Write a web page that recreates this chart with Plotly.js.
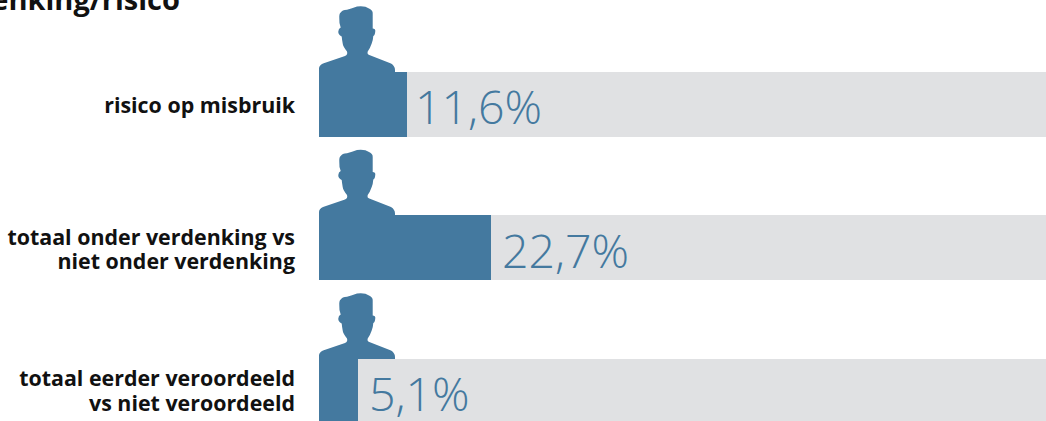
<!DOCTYPE html>
<html>
<head>
<meta charset="utf-8">
<script src="https://cdn.plot.ly/plotly-3.0.1.min.js"></script>
<style>html,body{margin:0;padding:0;background:#fff;overflow:hidden}#c{width:1046px;height:421px}</style>
</head>
<body>
<div id="c"></div>
<script>
const rowPositions = [0, 1, 2];
const labelLines = ["risico op misbruik", "totaal onder verdenking vs", "niet onder verdenking", "totaal eerder veroordeeld", "vs niet veroordeeld"];
const labelLinePositions = [0.005, 0.93, 1.097, 1.91, 2.085];
const values = [11.6, 22.7, 5.1];
const valueLabels = ["11,6%", "22,7%", "5,1%"];
const totals = [100, 100, 100];
const chartTitle = "verdenking/risico";

const blue = "#44799f";
const grey = "#e0e1e3";
const font = "'Open Sans', sans-serif";
const labelShifts = [6, 9, 9];

// Silhouette drawn in pixels relative to the row anchor (x=0, row centre); y up
const person = "M0,20 L0,36 Q0,39 4,41 L26,48.5 Q29,50 28,53 Q24,58 23.7,61 Q23,65 22.7,68 Q19,70 19.3,73 Q19.5,76 21.7,77 Q20,81 20.3,86 Q20,91 21.7,92 Q23,94.5 28,94.8 Q33,96 38,98 Q46,99 50,96 Q54,94 53.7,91 L53.7,76 Q56.5,76 56.3,73.5 Q56,69 54.3,68.5 Q54,64 52.7,61 Q51,56 48.7,53 Q48,50 50.3,49.5 L72,41 Q76,38.5 76,34.5 L76,20 Z";

const shapes = rowPositions.map(r => ({
  type: "path", layer: "below", xref: "x", yref: "y",
  xsizemode: "pixel", ysizemode: "pixel", xanchor: 0, yanchor: r,
  path: person, fillcolor: blue, line: {width: 0}
}));

const annotations = rowPositions.map((r, i) => ({
  x: values[i], y: r, xref: "x", yref: "y", text: valueLabels[i], showarrow: false,
  xanchor: "left", yanchor: "middle", xshift: labelShifts[i], yshift: -2,
  font: {family: font, size: 46.5, color: blue, weight: 300}
}));

Plotly.newPlot("c", [
  {type: "bar", orientation: "h", y: rowPositions, x: values, width: 0.453, marker: {color: blue}, hoverinfo: "skip"},
  {type: "bar", orientation: "h", y: rowPositions, x: totals.map((t, i) => t - values[i]), width: 0.453, marker: {color: grey}, hoverinfo: "skip"}
], {
  width: 1046, height: 421, barmode: "stack", showlegend: false,
  margin: {l: 319, r: 0, t: 0, b: 0},
  paper_bgcolor: "#fff", plot_bgcolor: "#fff",
  title: {text: "<b>" + chartTitle + "</b>", xref: "container", yref: "container", x: 0.172, xanchor: "right", y: 0.977, yanchor: "bottom", font: {family: font, size: 29, color: "#111"}},
  xaxis: {range: [0, 95.9], visible: false, fixedrange: true},
  yaxis: {range: [2.206, -0.728], tickmode: "array", tickvals: labelLinePositions, ticktext: labelLines.map(c => "<b>" + c + "</b>"),
    showgrid: false, zeroline: false, showline: false, ticks: "", ticklabelstandoff: 23,
    tickfont: {family: font, size: 21.4, color: "#111"}, fixedrange: true},
  shapes, annotations
}, {displayModeBar: false, staticPlot: true});
</script>
</body>
</html>
